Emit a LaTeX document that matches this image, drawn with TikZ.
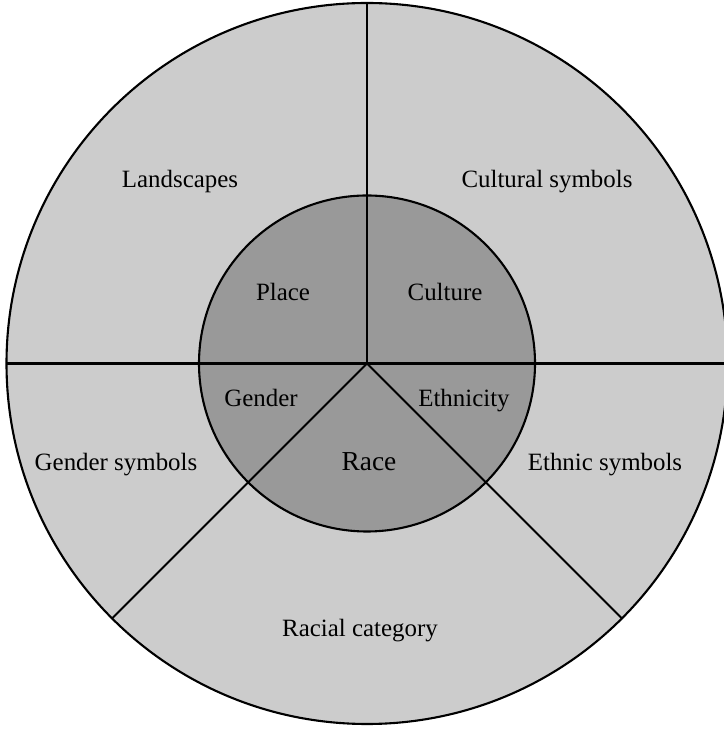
\documentclass[tikz,border=0pt]{standalone}
\usepackage{fontspec}
\setmainfont{Liberation Serif}
\usetikzlibrary{calc}
\begin{document}
\begin{tikzpicture}[x=1bp,y=1bp,
  ring/.style={line width=2.1bp, draw=black},
  divider/.style={line width=2.1bp, draw=black},
  lbl/.style={font=\fontsize{25}{30}\selectfont, inner sep=0pt, anchor=center,
    text height=0.68em, text depth=0.22em},
  core/.style={lbl, font=\fontsize{27.5}{32}\selectfont}]
  \useasboundingbox (0,0) rectangle (724,729);
  \clip (0,0) rectangle (724,729);
  \coordinate (c) at (367,365.5);
  % outer and inner discs
  \fill[fill=black!20] (c) circle[radius=361];
  \fill[fill=black!40] (c) circle[radius=168];
  % dividing lines from the centre
  \coordinate (top) at ($(c)+(90:361)$);
  \coordinate (left) at ($(c)+(180:361)$);
  \coordinate (right) at (724,365.5);
  \coordinate (ll) at ($(c)+(225:361)$);
  \coordinate (lr) at ($(c)+(-45:361)$);
  \draw[divider] (c) -- (top);
  \draw[divider] (left) -- (right);
  \draw[divider] (c) -- (ll);
  \draw[divider] (c) -- (lr);
  % circle outlines
  \draw[ring] (c) circle[radius=168];
  \draw[ring] (c) circle[radius=360.5];
  % outer ring labels
  \node[lbl] (landscapes) at (180,544) {Landscapes};
  \node[lbl] (cultsym) at (547,544) {Cultural symbols};
  \node[lbl] (gendsym) at (116,261) {Gender symbols};
  \node[lbl] (ethsym) at (605,261) {Ethnic symbols};
  \node[lbl] (racial) at (360,95) {Racial category};
  % inner disc labels
  \node[lbl] (place) at (283,431) {Place};
  \node[lbl] (culture) at (445,431) {Culture};
  \node[lbl] (gender) at (261,325) {Gender};
  \node[lbl] (ethnicity) at (464,325) {Ethnicity};
  \node[core] (race) at (369,261) {Race};
\end{tikzpicture}
\end{document}
